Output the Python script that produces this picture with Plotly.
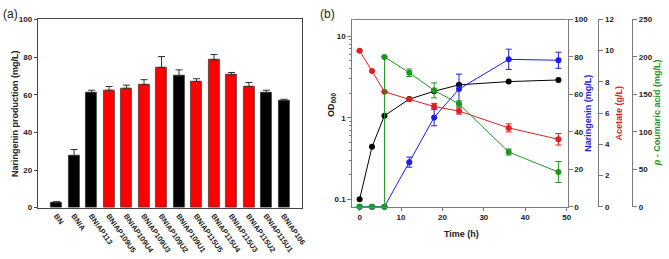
import plotly.graph_objects as go

# ---------- Panel (a) data ----------
strains = ["BN", "BNIA", "BNIAP113", "BNIAP109U5", "BNIAP109U4", "BNIAP109U3",
           "BNIAP109U2", "BNIAP109U1", "BNIAP115U5", "BNIAP115U4", "BNIAP115U3",
           "BNIAP115U2", "BNIAP115U1", "BNIAP106"]
production = [2.8, 27.7, 61.2, 62.4, 63.4, 65.3, 74.5, 70.1, 67.0, 78.5, 70.6, 64.3, 61.2, 56.8]
production_err = [0.4, 3.2, 1.2, 2.0, 1.7, 2.7, 5.8, 3.1, 1.5, 2.9, 1.2, 2.2, 1.2, 0.8]
bar_colors = ["black", "black", "black", "red", "red", "red", "red", "black",
              "red", "red", "red", "red", "black", "black"]

# ---------- Panel (b) data ----------
time_od = [0, 3, 6, 12, 18, 24, 36, 48]
od600 = [0.10, 0.44, 1.06, 1.69, 2.11, 2.53, 2.77, 2.90]

time_nar = [0, 3, 6, 12, 18, 24, 36, 48]
naringenin = [0, 0, 0, 23.8, 47.7, 62.8, 78.7, 78.2]
naringenin_err = [0, 0, 0, 2.7, 4.5, 8.0, 5.4, 4.3]

time_ace = [0, 3, 6, 12, 18, 24, 36, 48]
acetate = [10.0, 8.69, 7.37, 6.88, 6.42, 6.13, 5.05, 4.32]
acetate_err = [0, 0, 0, 0, 0.2, 0.2, 0.26, 0.37]

time_pca = [0, 3, 6, 6, 12, 18, 24, 36, 48]
coumaric = [0, 0, 0, 200, 178.9, 155.3, 137.3, 73.0, 46.3]
coumaric_err = [0, 0, 0, 0, 5, 10, 4, 4, 14]

W, H = 669, 259
FONT = "Arial, Liberation Sans, sans-serif"
AX_GRAY = "#7a7a7a"

def px_x(p):
    return p / W

def px_y(p):
    return 1 - p / H

fig = go.Figure()

# Panel (a) bars
fig.add_trace(go.Bar(
    x=list(range(len(strains))), y=production,
    marker=dict(color=bar_colors, line=dict(color="#222", width=0.6)),
    width=0.62,
    error_y=dict(type="data", array=production_err, arrayminus=[0] * len(strains),
                 symmetric=False, color="#333", thickness=1, width=3.5),
    xaxis="x", yaxis="y", showlegend=False,
))

# Panel (b)
BLACK, BLUE, RED, GREEN = "#000000", "#1c1ce6", "#e02020", "#1e961e"
ms = 6
fig.add_trace(go.Scatter(
    x=time_nar, y=naringenin, mode="lines+markers",
    line=dict(color=BLUE, width=1), marker=dict(color=BLUE, size=ms),
    error_y=dict(type="data", array=naringenin_err, color=BLUE, thickness=1, width=3),
    xaxis="x2", yaxis="y3", showlegend=False, cliponaxis=False,
))
fig.add_trace(go.Scatter(
    x=time_ace, y=acetate, mode="lines+markers",
    line=dict(color=RED, width=1), marker=dict(color=RED, size=ms),
    error_y=dict(type="data", array=acetate_err, color=RED, thickness=1, width=3),
    xaxis="x2", yaxis="y4", showlegend=False, cliponaxis=False,
))
fig.add_trace(go.Scatter(
    x=time_pca, y=coumaric, mode="lines+markers",
    line=dict(color=GREEN, width=1), marker=dict(color=GREEN, size=ms),
    error_y=dict(type="data", array=coumaric_err, color=GREEN, thickness=1, width=3),
    xaxis="x2", yaxis="y5", showlegend=False, cliponaxis=False,
))
fig.add_trace(go.Scatter(
    x=time_od, y=od600, mode="lines+markers",
    line=dict(color=BLACK, width=1), marker=dict(color=BLACK, size=ms),
    xaxis="x2", yaxis="y2", showlegend=False, cliponaxis=False,
))

tickfont_b = dict(family=FONT, size=8, color="#222", weight="bold")
tickfont_x = dict(family=FONT, size=7.5, color="#222", weight="bold")

ya_top, ya_bot = 16, 211
yb_top, yb_bot = 16, 210

minor_vals = [v * m for m in (0.1, 1) for v in range(2, 10)] + [20]

fig.update_layout(
    width=W, height=H,
    margin=dict(l=0, r=0, t=0, b=0),
    paper_bgcolor="white", plot_bgcolor="white",
    bargap=0,
    font=dict(family=FONT, size=8, color="#222"),
    xaxis=dict(
        domain=[px_x(38), px_x(304)], anchor="y",
        range=[-1.08, 14.02],
        tickmode="array", tickvals=list(range(len(strains))), ticktext=strains,
        tickangle=55, tickfont=tickfont_x, ticks="",
        showline=True, linecolor="#444", linewidth=1, mirror=True,
        showgrid=False, zeroline=False,
    ),
    yaxis=dict(
        domain=[px_y(ya_bot), px_y(ya_top)], anchor="x",
        range=[0, 100], tickvals=[0, 20, 40, 60, 80, 100],
        ticks="outside", ticklen=3, tickcolor="#444", tickfont=tickfont_b,
        showline=True, linecolor="#444", linewidth=1, mirror=True,
        showgrid=False, zeroline=False,
    ),
    xaxis2=dict(
        domain=[px_x(355), px_x(572)], anchor="y2",
        range=[-1.75, 50.25], tickvals=[0, 10, 20, 30, 40, 50],
        ticks="outside", ticklen=3, tickcolor=AX_GRAY, tickfont=tickfont_b,
        showline=True, linecolor=AX_GRAY, linewidth=1,
        showgrid=False, zeroline=False,
    ),
    yaxis2=dict(
        domain=[px_y(yb_bot), px_y(yb_top)], anchor="x2",
        type="log", range=[-1.09, 1.204],
        tickvals=[0.1, 1, 10], ticktext=["0.1", "1", "10"],
        ticks="outside", ticklen=4, tickcolor=AX_GRAY, tickfont=tickfont_b,
        minor=dict(tickmode="array", tickvals=minor_vals, ticks="outside",
                   ticklen=2, tickcolor=AX_GRAY),
        showline=True, linecolor=AX_GRAY, linewidth=1,
        showgrid=False, zeroline=False,
    ),
    yaxis3=dict(
        overlaying="y2", side="right", anchor="x2",
        range=[0, 100], tickvals=[0, 20, 40, 60, 80, 100],
        ticks="outside", ticklen=4, tickcolor=AX_GRAY, tickfont=tickfont_b,
        showline=True, linecolor=AX_GRAY, linewidth=1,
        showgrid=False, zeroline=False,
    ),
    yaxis4=dict(
        overlaying="y2", side="right", anchor="free", position=px_x(603),
        range=[0, 12], tickvals=[0, 2, 4, 6, 8, 10, 12],
        ticks="outside", ticklen=4, tickcolor=AX_GRAY, tickfont=tickfont_b,
        showline=True, linecolor=AX_GRAY, linewidth=1,
        showgrid=False, zeroline=False,
    ),
    yaxis5=dict(
        overlaying="y2", side="right", anchor="free", position=px_x(637),
        range=[0, 250], tickvals=[0, 50, 100, 150, 200, 250],
        ticks="outside", ticklen=4, tickcolor=AX_GRAY, tickfont=tickfont_b,
        showline=True, linecolor=AX_GRAY, linewidth=1,
        showgrid=False, zeroline=False,
    ),
)

# top border of panel (b)
fig.add_shape(type="line", xref="paper", yref="paper",
              x0=px_x(355), x1=px_x(572), y0=px_y(yb_top), y1=px_y(yb_top),
              line=dict(color=AX_GRAY, width=1))

title_font = dict(family=FONT, size=9, color="#222", weight="bold")
annos = [
    dict(text="(a)", x=px_x(1), y=px_y(1), xanchor="left", yanchor="top",
         font=dict(family=FONT, size=12, color="#222")),
    dict(text="(b)", x=px_x(320), y=px_y(1), xanchor="left", yanchor="top",
         font=dict(family=FONT, size=12, color="#222")),
    dict(text="Naringenin production (mg/L)", x=px_x(15), y=px_y(113),
         textangle=-90, xanchor="center", yanchor="middle", font=title_font),
    dict(text="OD<sub>600</sub>", x=px_x(334), y=px_y(104),
         textangle=-90, xanchor="center", yanchor="middle", font=title_font),
    dict(text="Time (h)", x=px_x(465), y=px_y(238),
         xanchor="center", yanchor="middle", font=title_font),
    dict(text="Naringenin (mg/L)", x=px_x(593), y=px_y(113),
         textangle=-90, xanchor="center", yanchor="middle",
         font=dict(family=FONT, size=9, color=BLUE, weight="bold")),
    dict(text="Acetate (g/L)", x=px_x(624), y=px_y(113),
         textangle=-90, xanchor="center", yanchor="middle",
         font=dict(family=FONT, size=9, color=RED, weight="bold")),
    dict(text="<i>p</i> - Coumaric acid (mg/L)", x=px_x(662), y=px_y(113),
         textangle=-90, xanchor="center", yanchor="middle",
         font=dict(family=FONT, size=9, color=GREEN, weight="bold")),
]
for a in annos:
    fig.add_annotation(xref="paper", yref="paper", showarrow=False, **a)

fig.write_html(
    "out.html",
    config={"displayModeBar": False},
    post_script="document.body.style.margin='0';document.body.style.overflow='hidden';",
)
